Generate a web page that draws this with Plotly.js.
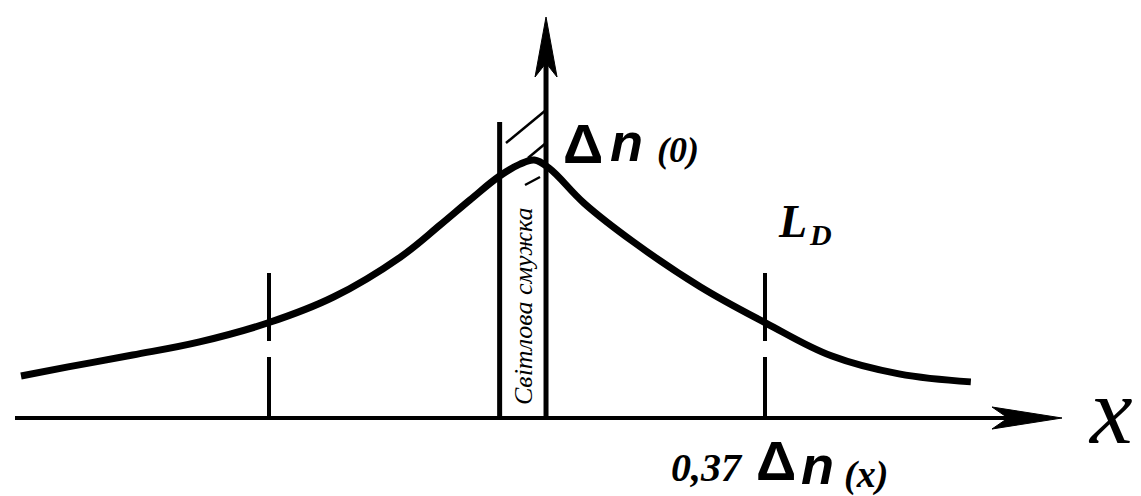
<!DOCTYPE html>
<html>
<head>
<meta charset="utf-8">
<script src="https://cdn.plot.ly/plotly-3.0.1.min.js"></script>
<style>
  html, body { margin: 0; padding: 0; background: #fff; }
  #plot { width: 1141px; height: 496px; }
</style>
</head>
<body>
<div id="plot"></div>
<script>
// Excess carrier concentration profile around a light stripe.
// x in units of the diffusion length L_D, concentration in units of Δn(0).
const profileX = [-2.00, -1.81, -1.55, -1.28, -1.00, -0.74, -0.47, -0.31, -0.19, -0.07, 0.01,
                   0.07,  0.13,  0.27,  0.47,  0.74,  1.00,  1.27,  1.54,  1.83];
const profileY = [0.163, 0.198, 0.244, 0.295, 0.370, 0.469, 0.624, 0.748, 0.845, 0.938, 0.983,
                  1.000, 0.968, 0.833, 0.682, 0.508, 0.370, 0.240, 0.171, 0.140];

// Positions of ±L_D markers and the edges of the light stripe (units of L_D)
const ldTicks = [-1, 1];
const stripEdges = [-0.07, 0.117];

// Text labels
const labelStrip = 'Світлова смужка';
const labelPeak = ['Δ', 'n', '(0)'];
const labelLd = ['L', 'D'];
const labelLevel = ['0,37', 'Δ', 'n', '(x)'];
const labelAxis = 'x';

// Canvas geometry
const W = 1141, H = 496;
const X0 = 517, SX = 248;   // pixel of x=0, pixels per L_D
const Y0 = 418, SY = 258;   // pixel of baseline, pixels per Δn(0)
const fx = px => (px - X0) / SX;
const fy = py => (Y0 - py) / SY;
const dx = px => px / SX;
const dy = py => py / SY;

const INK = '#000000';
const SERIF = '"Liberation Serif", "Times New Roman", serif';
const SANS = '"Liberation Sans", Arial, sans-serif';

const axisY = stripEdges[1];
const xTip = fx(1062), yTip = fy(17);

const traces = [];

// ±L_D dashed markers
ldTicks.forEach(m => {
  traces.push({
    x: [m, m], y: [fy(273), 0],
    mode: 'lines', hoverinfo: 'skip', showlegend: false,
    line: { color: INK, width: 4, dash: '68px,16px,200px' }
  });
});

// concentration profile
traces.push({
  x: profileX, y: profileY,
  mode: 'lines', hoverinfo: 'skip', showlegend: false,
  line: { color: INK, width: 7, shape: 'spline', smoothing: 1.1 }
});

const shapes = [];
const seg = (x0, y0, x1, y1, w) => shapes.push({
  type: 'line', xref: 'x', yref: 'y', x0, y0, x1, y1,
  line: { color: INK, width: w }
});

// x axis
seg(fx(15), 0, xTip - dx(30), 0, 4);
// vertical axis (right edge of the stripe)
seg(axisY, 0, axisY, yTip - dy(30), 5);
// left edge of the stripe
seg(stripEdges[0], 0, stripEdges[0], fy(122), 5);

// hatching inside the stripe
seg(fx(506), fy(143), axisY, fy(110), 2.5);
seg(fx(528), fy(158), axisY, fy(143), 2.5);
seg(fx(525), fy(185), fx(540), fy(177), 2.5);

// arrowheads
const hArrow = () => {
  const L = dx(70), N = dx(54), hw = dy(11);
  return `M ${xTip},0 L ${xTip - L},${hw} L ${xTip - N},0 L ${xTip - L},${-hw} Z`;
};
const vArrow = () => {
  const L = dy(60), N = dy(46), hw = dx(11);
  return `M ${axisY},${yTip} L ${axisY + hw},${yTip - L} L ${axisY},${yTip - N} L ${axisY - hw},${yTip - L} Z`;
};
[hArrow(), vArrow()].forEach(p => shapes.push({
  type: 'path', xref: 'x', yref: 'y', path: p,
  fillcolor: INK, line: { color: INK, width: 1 }
}));

const ann = (text, px, py, size, family, extra) => Object.assign({
  text, xref: 'paper', yref: 'paper', x: px / W, y: 1 - py / H,
  xanchor: 'center', yanchor: 'middle', showarrow: false,
  font: { family, size, color: INK }
}, extra || {});

const annotations = [
  // Δn(0)
  ann('<b>' + labelPeak[0] + '</b>', 583, 143, 56, SANS),
  ann('<b><i>' + labelPeak[1] + '</i></b>', 626, 142, 54, SANS),
  ann('<b><i>' + labelPeak[2] + '</i></b>', 678, 150, 36, SERIF),
  // L_D
  ann('<b><i>' + labelLd[0] + '</i></b>', 792, 221, 46, SERIF),
  ann('<b><i>' + labelLd[1] + '</i></b>', 820, 234, 30, SERIF),
  // 0,37 Δn(x)
  ann('<b><i>' + labelLevel[0] + '</i></b>', 707, 467, 40, SERIF),
  ann('<b>' + labelLevel[1] + '</b>', 776, 460, 56, SANS),
  ann('<b><i>' + labelLevel[2] + '</i></b>', 817, 465, 54, SANS),
  ann('<b><i>' + labelLevel[3] + '</i></b>', 866, 474, 38, SERIF),
  // axis name
  ann('<i>' + labelAxis + '</i>', 1086, 410, 96, SERIF, { xanchor: 'left' }),
  // stripe caption
  ann('<i>' + labelStrip + '</i>', 523, 306, 26, SERIF, { textangle: -90 })
];

const layout = {
  width: W, height: H,
  margin: { l: 0, r: 0, t: 0, b: 0 },
  paper_bgcolor: '#ffffff', plot_bgcolor: '#ffffff',
  xaxis: { range: [fx(0), fx(W)], visible: false, fixedrange: true },
  yaxis: { range: [fy(H), fy(0)], visible: false, fixedrange: true },
  shapes, annotations, showlegend: false
};

Plotly.newPlot('plot', traces, layout, { displayModeBar: false, staticPlot: true });
</script>
</body>
</html>
